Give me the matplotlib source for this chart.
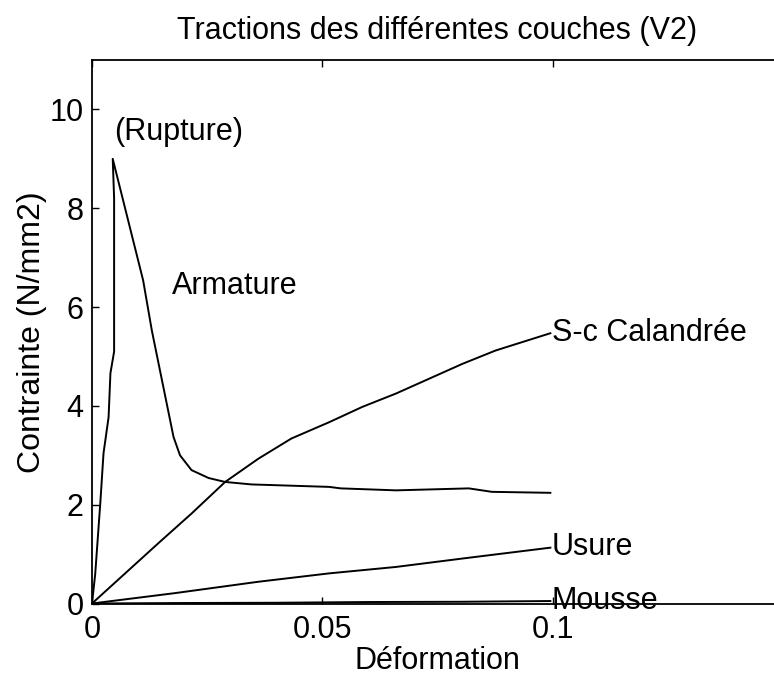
import matplotlib
matplotlib.use("Agg")
import matplotlib.pyplot as plt

plt.rcParams['font.family'] = ['Liberation Sans', 'DejaVu Sans']

# Armature
arm_x = [0.0, 0.0007, 0.0018, 0.0025, 0.0036, 0.0040, 0.0048, 0.0048, 0.0045,
         0.0111, 0.0130, 0.0177, 0.0191, 0.0216, 0.0253, 0.0289, 0.0346,
         0.0515, 0.0540, 0.0660, 0.0818, 0.0868, 0.0995]
arm_y = [0.0, 0.60, 2.03, 3.04, 3.77, 4.66, 5.10, 8.20, 9.00,
         6.54, 5.52, 3.37, 3.00, 2.70, 2.54, 2.46, 2.41,
         2.36, 2.33, 2.29, 2.33, 2.26, 2.24]

# S-c Calandrée
cal_x = [0.0, 0.0072, 0.0144, 0.0216, 0.0289, 0.0361, 0.0433, 0.0515, 0.0587,
         0.0660, 0.0732, 0.0804, 0.0876, 0.0995]
cal_y = [0.0, 0.61, 1.22, 1.82, 2.46, 2.93, 3.34, 3.67, 3.98,
         4.25, 4.55, 4.85, 5.12, 5.47]

# Usure
usu_x = [0.0, 0.018, 0.0361, 0.0515, 0.066, 0.0804, 0.0995]
usu_y = [0.0, 0.21, 0.44, 0.61, 0.74, 0.91, 1.13]

# Mousse
mou_x = [0.0, 0.02, 0.04, 0.06, 0.08, 0.0995]
mou_y = [0.0, 0.01, 0.015, 0.03, 0.035, 0.05]

xticks = [0, 0.05, 0.1]
xtick_labels = ['0', '0.05', '0.1']
yticks = [0, 2, 4, 6, 8, 10]

fig = plt.figure(figsize=(7.74, 6.81), dpi=100)
ax = fig.add_axes([92/774, 1 - 603.5/681, 691/774, (603.5 - 60)/681])

lw = 1.4
for xs, ys in [(arm_x, arm_y), (cal_x, cal_y), (usu_x, usu_y), (mou_x, mou_y)]:
    ax.plot(xs, ys, color='black', linewidth=lw)

ax.set_xlim(0, 0.15)
ax.set_ylim(0, 11)
ax.set_xticks(xticks)
ax.set_xticklabels(xtick_labels)
ax.set_yticks(yticks)
ax.tick_params(direction='in', length=5, width=1, top=True, right=True,
               labelsize=22)
ax.tick_params(axis='x', pad=8)
ax.tick_params(axis='y', pad=6)
for s in ax.spines.values():
    s.set_linewidth(1.3)

fs = 22
ax.text(0.0047, 9.55, '(Rupture)', fontsize=fs, ha='left', va='center')
ax.text(0.0173, 6.43, 'Armature', fontsize=fs, ha='left', va='center')
ax.text(0.0998, 5.47, 'S-c Calandrée', fontsize=fs, ha='left', va='center')
ax.text(0.0998, 1.15, 'Usure', fontsize=fs, ha='left', va='center')
ax.text(0.0998, 0.05, 'Mousse', fontsize=fs, ha='left', va='center')

ax.set_title('Tractions des différentes couches (V2)', fontsize=22, pad=15)
ax.set_xlabel('Déformation', fontsize=22, labelpad=1)
ax.set_ylabel('Contrainte (N/mm2)', fontsize=23, labelpad=2)

fig.savefig('out.png', dpi=100)
